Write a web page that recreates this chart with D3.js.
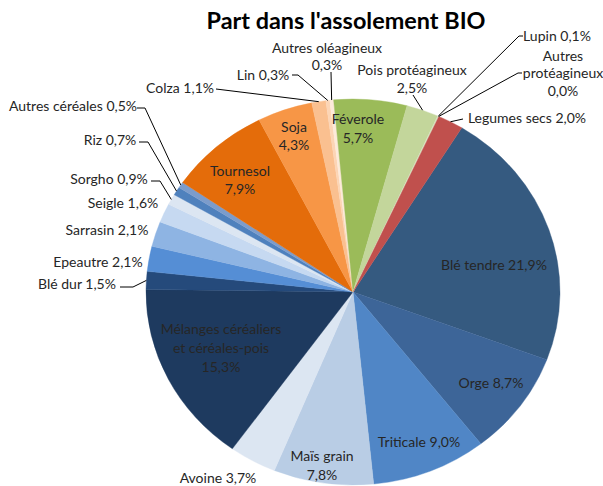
<!DOCTYPE html>
<html>
<head>
<meta charset="utf-8">
<script src="https://cdn.jsdelivr.net/npm/d3@7"></script>
<style>
  body { margin: 0; background: #fff; }
  svg { display: block; }
  text { font-family: Lato, "Open Sans", sans-serif; }
</style>
</head>
<body>
<svg id="chart" width="603" height="486"></svg>
<script>
// Part dans l'assolement BIO (%), in chart order, clockwise from Blé tendre
const categories = [
  "Blé tendre", "Orge", "Triticale", "Maïs grain", "Avoine",
  "Mélanges céréaliers et céréales-pois", "Blé dur", "Epeautre", "Sarrasin",
  "Seigle", "Sorgho", "Riz", "Autres céréales", "Tournesol", "Soja", "Colza",
  "Lin", "Autres oléagineux", "Féverole", "Pois protéagineux", "Lupin",
  "Autres protéagineux", "Legumes secs"
];
const shares = [
  21.9, 8.7, 9.0, 7.8, 3.7,
  15.3, 1.5, 2.1, 2.1,
  1.6, 0.9, 0.7, 0.5, 7.9, 4.3, 1.1,
  0.3, 0.3, 5.7, 2.5, 0.1,
  0.0, 2.0
];
const colors = [
  "#355a80", "#3d6598", "#5086c6", "#b9cde5", "#dce6f2",
  "#1e3a5f", "#254a7b", "#558ed5", "#8eb4e3",
  "#c6d9f1", "#dce6f2", "#4f81bd", "#7c9ccb", "#e46c0a", "#f79646", "#fac090",
  "#fcd5b5", "#fdeada", "#9bbb59", "#c3d69b", "#d7e4bd",
  "#ebf1de", "#c0504d"
];

// label placement (text centre, first line), rows = words per name line,
// own = value on its own line, lead = leader points from label towards slice
const labelPos = {
  "Blé tendre": { x: 494, y: 264 },
  "Orge": { x: 491, y: 382 },
  "Triticale": { x: 419, y: 441 },
  "Maïs grain": { x: 322, y: 455, own: true, gap: 19 },
  "Avoine": { x: 218, y: 477 },
  "Mélanges céréaliers et céréales-pois": { x: 221, y: 328, rows: [2, 2], own: true, gap: 19 },
  "Blé dur": { x: 77, y: 283, lead: [[120, 287], [133, 287]] },
  "Epeautre": { x: 98, y: 261 },
  "Sarrasin": { x: 107, y: 229 },
  "Seigle": { x: 123, y: 202 },
  "Sorgho": { x: 109, y: 178, lead: [[151, 181], [160, 181]] },
  "Riz": { x: 110, y: 139, lead: [[139, 142], [148, 142]] },
  "Autres céréales": { x: 73, y: 105, lead: [[137, 108], [145, 108]] },
  "Tournesol": { x: 240, y: 170, own: true, gap: 18 },
  "Soja": { x: 294, y: 126, own: true, gap: 18 },
  "Colza": { x: 180, y: 87, lead: [[216, 89]] },
  "Lin": { x: 263, y: 74, lead: [[292, 75], [298, 75]] },
  "Autres oléagineux": { x: 327, y: 47, own: true, gap: 17, lead: [[331, 72]] },
  "Féverole": { x: 358, y: 118, own: true, gap: 19 },
  "Pois protéagineux": { x: 412, y: 69, own: true, gap: 18, lead: [[413, 95]] },
  "Lupin": { x: 557, y: 35, lead: [[523, 36], [519, 36]] },
  "Autres protéagineux": { x: 563, y: 55, rows: [1, 1], own: true, gap: 17.5, lead: [[522, 73], [518, 73]] },
  "Legumes secs": { x: 527, y: 117, lead: [[463, 119]] }
};

const cx = 353, cy = 292, rx = 207, ry = 193;
const startDeg = 31.7;

const svg = d3.select("#chart");
const fmt = v => v.toFixed(1).replace(".", ",") + "%";

svg.append("text")
  .attr("x", 346).attr("y", 20)
  .attr("text-anchor", "middle").attr("dominant-baseline", "central")
  .attr("font-size", 22).attr("font-weight", "bold").attr("fill", "#000")
  .attr("textLength", 279).attr("lengthAdjust", "spacingAndGlyphs")
  .text("Part dans l'assolement BIO");

const data = categories.map((c, i) => ({ name: c, value: shares[i], color: colors[i] }));

const pie = d3.pie().sort(null).value(d => d.value)
  .startAngle(startDeg * Math.PI / 180)
  .endAngle(startDeg * Math.PI / 180 + 2 * Math.PI);
const arcs = pie(data);
const arc = d3.arc().innerRadius(0).outerRadius(rx);

const g = svg.append("g")
  .attr("transform", `translate(${cx},${cy}) scale(1,${ry / rx})`);

g.selectAll("path")
  .data(arcs)
  .enter()
  .append("path")
  .attr("d", arc)
  .attr("fill", d => d.data.color)
  .attr("stroke", d => d.data.color)
  .attr("stroke-width", 0.4);

// point on the (elliptical) rim at slice middle
function rimPoint(a) {
  const m = (a.startAngle + a.endAngle) / 2;
  return [cx + rx * Math.sin(m), cy - ry * Math.cos(m)];
}

const lineGen = d3.line();
arcs.forEach(a => {
  const p = labelPos[a.data.name];
  if (!p || !p.lead) return;
  const pts = p.lead.concat([rimPoint(a)]);
  svg.append("path")
    .attr("d", lineGen(pts))
    .attr("fill", "none")
    .attr("stroke", "#000")
    .attr("stroke-width", 1);
});

arcs.forEach(a => {
  const p = labelPos[a.data.name];
  if (!p) return;
  const words = a.data.name.split(" ");
  let lines = [];
  if (p.rows) {
    let k = 0;
    p.rows.forEach(n => { lines.push(words.slice(k, k + n).join(" ")); k += n; });
  } else {
    lines.push(a.data.name);
  }
  if (p.own) lines.push(fmt(a.data.value));
  else lines[lines.length - 1] += " " + fmt(a.data.value);
  const gap = p.gap || 18;
  const t = svg.append("text")
    .attr("text-anchor", "middle")
    .attr("font-size", 14)
    .attr("fill", "#262626");
  lines.forEach((l, i) => {
    t.append("tspan")
      .attr("x", p.x)
      .attr("y", p.y + i * gap)
      .attr("dominant-baseline", "central")
      .text(l);
  });
});
</script>
</body>
</html>
